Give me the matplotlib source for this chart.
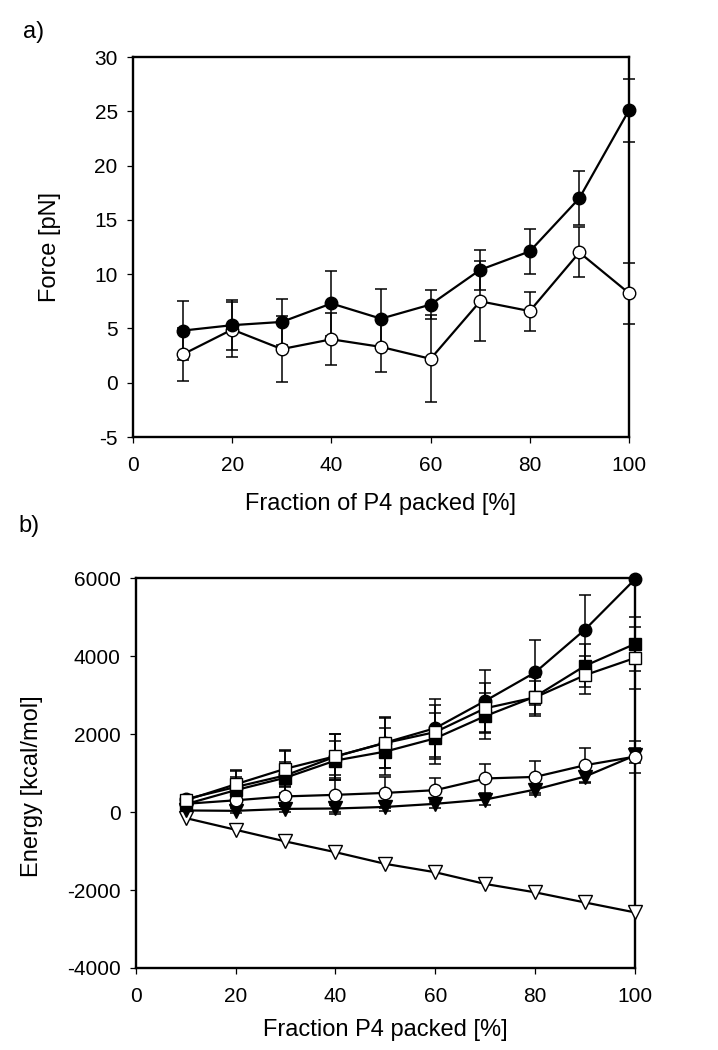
import matplotlib
matplotlib.use("Agg")
import matplotlib.pyplot as plt

plt.rcParams['font.family'] = ['Liberation Sans', 'DejaVu Sans']
plt.rcParams['axes.unicode_minus'] = False  # plain hyphen like the original

# -- panel a data -- #
frac = [10, 20, 30, 40, 50, 60, 70, 80, 90, 100]
force_filled = [4.8, 5.3, 5.6, 7.3, 5.9, 7.2, 10.4, 12.1, 17.0, 25.1]
force_filled_err = [2.7, 2.3, 2.1, 3.0, 2.7, 1.35, 1.85, 2.05, 2.5, 2.9]
force_open = [2.6, 4.9, 3.1, 4.0, 3.3, 2.2, 7.5, 6.6, 12.0, 8.25]
force_open_err = [2.4, 2.5, 3.05, 2.4, 2.35, 4.0, 3.7, 1.8, 2.3, 2.8]

# -- panel b data -- #
en_circle_f = [330, 640, 940, 1420, 1780, 2150, 2850, 3580, 4680, 5970]
en_circle_f_err = [100, 430, 640, 590, 650, 750, 790, 840, 880, 0]
en_square_f = [200, 560, 880, 1320, 1550, 1890, 2460, 2960, 3750, 4310]
en_square_f_err = [100, 350, 400, 500, 600, 650, 600, 500, 550, 700]
en_square_o = [300, 710, 1110, 1430, 1770, 2050, 2660, 2940, 3510, 3950]
en_square_o_err = [100, 330, 450, 560, 650, 700, 640, 430, 480, 800]
en_circle_o = [210, 300, 400, 440, 490, 560, 860, 900, 1200, 1420]
en_circle_o_err = [80, 150, 250, 500, 400, 300, 370, 410, 450, 410]
en_tri_f = [40, 30, 80, 90, 130, 210, 320, 575, 910, 1450]
en_tri_f_err = [50, 60, 80, 90, 100, 120, 150, 130, 150, 200]
en_tri_o = [-155, -455, -755, -1030, -1330, -1545, -1845, -2060, -2320, -2575]

fig = plt.figure(figsize=(7.18, 10.5), dpi=100)
ax1 = fig.add_axes([0.1852, 0.5838, 0.6908, 0.3619])
ax2 = fig.add_axes([0.189, 0.0781, 0.6954, 0.3714])


def series(ax, y, err, fc, marker, ms=9):
    if err is not None:
        ax.errorbar(frac, y, yerr=err, fmt='none', ecolor='black',
                    elinewidth=1.1, capsize=4.5, capthick=1.1, clip_on=False,
                    zorder=2)
    ax.plot(frac, y, color='black', lw=1.6, marker=marker, ms=ms,
            mfc=fc, mec='black', mew=1.0, clip_on=False, zorder=3)


def style(ax):
    for s in ax.spines.values():
        s.set_linewidth(1.7)
    ax.tick_params(direction='out', length=4, width=0.9, labelsize=15,
                   top=False, right=False)
    ax.tick_params(axis='x', pad=10)
    ax.tick_params(axis='y', pad=7)


# -- a) -- #
series(ax1, force_open, force_open_err, 'white', 'o')
series(ax1, force_filled, force_filled_err, 'black', 'o')
ax1.set_xlim(0, 100)
ax1.set_ylim(-5, 30)
ax1.set_xticks(range(0, 101, 20))
ax1.set_yticks(range(-5, 31, 5))
ax1.set_ylabel('Force [pN]', fontsize=17)
ax1.set_xlabel('Fraction of P4 packed [%]', fontsize=17)
ax1.yaxis.set_label_coords(-0.145, 0.5)
ax1.xaxis.set_label_coords(0.5, -0.147)
style(ax1)

# -- b) -- #
series(ax2, en_tri_o, None, 'white', 'v', ms=10)
series(ax2, en_tri_f, en_tri_f_err, 'black', 'v', ms=10)
series(ax2, en_circle_o, en_circle_o_err, 'white', 'o')
series(ax2, en_square_f, en_square_f_err, 'black', 's', ms=8.5)
series(ax2, en_circle_f, en_circle_f_err, 'black', 'o')
series(ax2, en_square_o, en_square_o_err, 'white', 's', ms=8.5)
ax2.set_xlim(0, 100)
ax2.set_ylim(-4000, 6000)
ax2.set_xticks(range(0, 101, 20))
ax2.set_yticks(range(-4000, 6001, 2000))
ax2.set_ylabel('Energy [kcal/mol]', fontsize=17)
ax2.set_xlabel('Fraction P4 packed [%]', fontsize=17)
ax2.yaxis.set_label_coords(-0.186, 0.467)
ax2.xaxis.set_label_coords(0.5, -0.131)
style(ax2)

fig.text(0.032, 0.9695, 'a)', fontsize=17, va='center')
fig.text(0.025, 0.499, 'b)', fontsize=17, va='center')

fig.savefig('out.png', dpi=100)
